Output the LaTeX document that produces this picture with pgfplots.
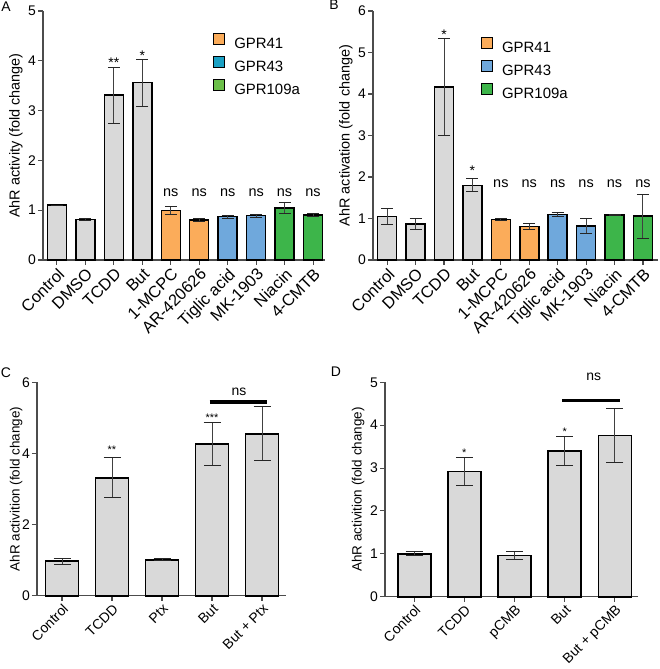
\documentclass[border=0pt]{standalone}
\usepackage{fontspec}
\setmainfont{Liberation Sans}
\usepackage{pgfplots}
\pgfplotsset{compat=1.18}
\definecolor{barg}{HTML}{D9D9D9}
\definecolor{orng}{HTML}{FBAC5A}
\definecolor{lblue}{HTML}{6FA8DC}
\definecolor{tealc}{HTML}{1BA1C4}
\definecolor{grn}{HTML}{3DB54A}
\definecolor{lgrn}{HTML}{6CC04A}
\newcommand{\fs}[1]{\fontsize{#1}{#1}\selectfont}
\pgfplotsset{
  gp/.style={
    scale only axis, clip=false,
    axis x line=bottom, axis y line=left,
    axis line style={-, black!70, line width=1.2bp},
    tick align=outside, major tick length=5bp,
    tick style={black!70, line width=1.1bp},
    ymin=0,
    /pgf/number format/assume math mode=true,
    yticklabel style={font=\fs{14}, inner sep=2bp},
    xticklabel style={rotate=45, anchor=north east, font=\fs{14}, inner sep=1.5bp},
    ylabel style={font=\fs{14.5}},
    legend image code/.code={\draw[##1, line width=0.9bp] (0bp,-0.5bp) rectangle (11bp,10.5bp);},
    legend style={draw=none, fill=none, font=\fs{15}, inner sep=0pt, row sep=4bp,
      /tikz/every odd column/.append style={column sep=7bp}},
    legend cell align=left,
  },
  bA/.style={ybar, bar shift=0pt, bar width=19bp, draw=black, line width=1.5bp, forget plot,
    error bars/.cd, y dir=both, y explicit,
    error bar style={black!75, line width=1bp},
    error mark options={rotate=90, black!85, line width=1bp, mark size=6bp}},
  bC/.style={ybar, bar shift=0pt, bar width=33bp, draw=black, line width=1.8bp, fill=barg, forget plot,
    error bars/.cd, y dir=both, y explicit,
    error bar style={black!75, line width=1bp},
    error mark options={rotate=90, black!85, line width=1bp, mark size=8.5bp}},
}
\begin{document}
\begin{tikzpicture}
\useasboundingbox (0,0) rectangle (660bp,669bp);
% Panel A
\begin{axis}[gp, at={(43bp,409bp)}, anchor=south west, width=282bp, height=249bp,
  xmin=-0.49, xmax=9.42, ymax=5, ytick={0,1,2,3,4,5},
  xtick={0,...,9},
  xticklabels={Control,DMSO,TCDD,But,1-MCPC,AR-420626,Tiglic acid,MK-1903,Niacin,4-CMTB},
  xticklabel style={font=\fs{16.5}},
  ylabel={AhR activity (fold change)},
  legend style={at={(axis cs:5.49,4.56)}, anchor=north west}]
\addplot[fill=barg, bA] coordinates {(0,1.10) +- (0,0) (1,0.81) +- (0,0.02) (2,3.31) +- (0,0.56) (3,3.56) +- (0,0.47)};
\addplot[fill=orng, bA] coordinates {(4,0.99) +- (0,0.085) (5,0.80) +- (0,0.03)};
\addplot[fill=lblue, bA] coordinates {(6,0.87) +- (0,0.03) (7,0.89) +- (0,0.03)};
\addplot[fill=grn, bA] coordinates {(8,1.04) +- (0,0.11) (9,0.90) +- (0,0.025)};
\addlegendimage{fill=orng, draw=black}
\addlegendimage{fill=tealc, draw=black}
\addlegendimage{fill=lgrn, draw=black}
\legend{GPR41,GPR43,GPR109a}
\node[font=\fs{14}, yshift=-3bp] at (axis cs:2,4.02) {**};
\node[font=\fs{14}, yshift=-3bp] at (axis cs:3,4.17) {*};
\pgfplotsinvokeforeach{4,...,9}{\node[font=\fs{14.5}] at (axis cs:#1,1.35) {ns};}
\end{axis}
% Panel B
\begin{axis}[gp, at={(373bp,409bp)}, anchor=south west, width=285bp, height=249bp,
  xmin=-0.50, xmax=9.53, ymax=6, ytick={0,1,2,3,4,5,6},
  xtick={0,...,9},
  xticklabels={Control,DMSO,TCDD,But,1-MCPC,AR-420626,Tiglic acid,MK-1903,Niacin,4-CMTB},
  xticklabel style={font=\fs{16.5}},
  ylabel={AhR activation (fold change)},
  legend style={at={(axis cs:3.30,5.38)}, anchor=north west}]
\addplot[fill=barg, bA] coordinates {(0,1.05) +- (0,0.20) (1,0.87) +- (0,0.14) (2,4.17) +- (0,1.16) (3,1.80) +- (0,0.16)};
\addplot[fill=orng, bA] coordinates {(4,0.98) +- (0,0.02) (5,0.81) +- (0,0.065)};
\addplot[fill=lblue, bA] coordinates {(6,1.10) +- (0,0.055) (7,0.82) +- (0,0.19)};
\addplot[fill=grn, bA] coordinates {(8,1.08) +- (0,0.01) (9,1.06) +- (0,0.53)};
\addlegendimage{fill=orng, draw=black}
\addlegendimage{fill=lblue, draw=black}
\addlegendimage{fill=grn, draw=black}
\legend{GPR41,GPR43,GPR109a}
\node[font=\fs{14}, yshift=-3bp] at (axis cs:2,5.49) {*};
\node[font=\fs{14}, yshift=-3bp] at (axis cs:3,2.23) {*};
\pgfplotsinvokeforeach{4,...,9}{\node[font=\fs{14.5}] at (axis cs:#1,1.83) {ns};}
\end{axis}
% Panel C
\begin{axis}[gp, at={(37bp,73.3bp)}, anchor=south west, width=249bp, height=213.4bp,
  xmin=-0.5, xmax=4.48, ymax=6, ytick={0,2,4,6},
  xtick={0,...,4},
  xticklabels={Control,TCDD,Ptx,But,But + Ptx},
  ylabel={AhR activition (fold change)}, ylabel style={font=\fs{13.5}}, ylabel shift=-6bp]
\addplot[bC] coordinates {(0,0.97) +- (0,0.08) (1,3.32) +- (0,0.57) (2,1.01) +- (0,0.03) (3,4.27) +- (0,0.60) (4,4.55) +- (0,0.76)};
\addplot[black, line width=3.5bp, forget plot] coordinates {(2.95,5.45) (4.1,5.45)};
\node[font=\fs{11}, yshift=-2.5bp] at (axis cs:1,4.17) {**};
\node[font=\fs{11}, yshift=-2.5bp] at (axis cs:3,5.08) {***};
\node[font=\fs{14}] at (axis cs:3.54,5.74) {ns};
\end{axis}
% Panel D
\begin{axis}[gp, at={(385bp,72.3bp)}, anchor=south west, width=253bp, height=214.4bp,
  xmin=-0.58, xmax=4.46, ymax=5, ytick={0,1,2,3,4,5},
  xtick={0,...,4},
  xticklabels={Control,TCDD,pCMB,But,But + pCMB},
  ylabel={AhR activition (fold change)}, ylabel style={font=\fs{13.5}}]
\addplot[bC] coordinates {(0,1.00) +- (0,0.05) (1,2.92) +- (0,0.33) (2,0.96) +- (0,0.10) (3,3.40) +- (0,0.33) (4,3.76) +- (0,0.64)};
\addplot[black, line width=3.5bp, forget plot] coordinates {(2.95,4.58) (4.1,4.58)};
\node[font=\fs{11}, yshift=-2.5bp] at (axis cs:1,3.42) {*};
\node[font=\fs{11}, yshift=-2.5bp] at (axis cs:3,3.91) {*};
\node[font=\fs{14}] at (axis cs:3.58,5.13) {ns};
\end{axis}
% panel letters
\node[font=\fs{14}] at (6bp,662bp) {A};
\node[font=\fs{14}] at (334bp,664bp) {B};
\node[font=\fs{14}] at (6bp,296bp) {C};
\node[font=\fs{14}] at (336bp,297bp) {D};
\end{tikzpicture}
\end{document}
